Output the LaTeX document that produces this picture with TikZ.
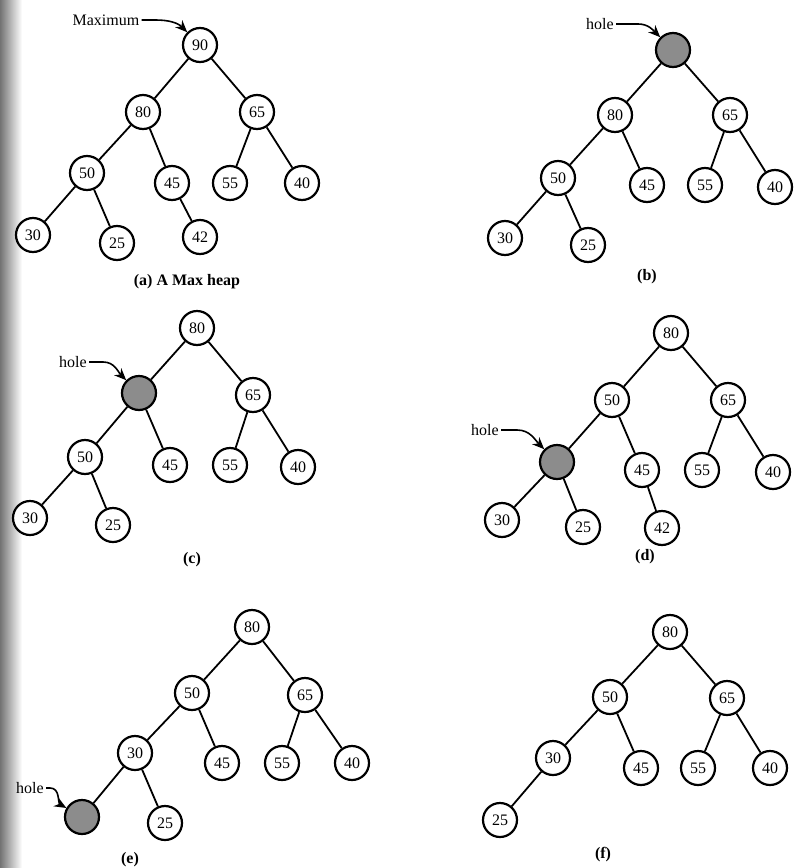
\documentclass[tikz,border=0pt]{standalone}
\usepackage{fontspec}
\setmainfont{Liberation Serif}
\usepackage{tikz}
\usetikzlibrary{arrows.meta}

\begin{document}
\begin{tikzpicture}[x=0.5pt, y=0.5pt]
    \tikzstyle{knode} = [circle, draw=black, line width=1.1pt, fill=white, minimum size=17pt, inner sep=0pt, font=\footnotesize]
    \tikzstyle{holenode} = [knode, fill=black!45]
    \tikzstyle{link} = [line width=0.9pt, draw=black]
    \tikzstyle{ptr} = [line width=0.8pt, -{Stealth[length=6pt, width=5pt]}, draw=black]
    \tikzstyle{tag} = [font=\footnotesize, inner sep=1pt]
    \tikzstyle{figcap} = [font=\footnotesize\bfseries]

    \useasboundingbox (0,0) rectangle (794,-868);
    \shade [left color=black!55, right color=white] (0,0) rectangle (22,-868);

    \node [knode] (a90) at (200,-45) {90};
    \node [knode] (a80) at (143,-112) {80};
    \node [knode] (a65) at (257,-112) {65};
    \node [knode] (a50) at (87,-173) {50};
    \node [knode] (a45) at (172,-183) {45};
    \node [knode] (a55) at (230,-183) {55};
    \node [knode] (a40) at (302,-183) {40};
    \node [knode] (a30) at (33,-235) {30};
    \node [knode] (a25) at (117,-243) {25};
    \node [knode] (a42) at (200,-237) {42};
    \node [tag] (amax) at (106,-20) {Maximum};
    \node [figcap] (acap) at (187,-282) {(a) A Max heap};
    \draw [link] (a90) -- (a80) (a90) -- (a65) (a80) -- (a50) (a80) -- (a45) (a65) -- (a55) (a65) -- (a40) (a50) -- (a30) (a50) -- (a25) (a45) -- (a42);
    \draw [ptr] (amax.east) -- ++(14,0) to[out=0, in=135] (a90.north west);

    \node [holenode] (bh) at (673,-50) {};
    \node [knode] (b80) at (615,-115) {80};
    \node [knode] (b65) at (730,-115) {65};
    \node [knode] (b50) at (558,-178) {50};
    \node [knode] (b45) at (647,-185) {45};
    \node [knode] (b55) at (705,-185) {55};
    \node [knode] (b40) at (775,-187) {40};
    \node [knode] (b30) at (505,-238) {30};
    \node [knode] (b25) at (588,-245) {25};
    \node [tag] (bhole) at (600,-24) {hole};
    \node [figcap] (bcap) at (647,-277) {(b)};
    \draw [link] (bh) -- (b80) (bh) -- (b65) (b80) -- (b50) (b80) -- (b45) (b65) -- (b55) (b65) -- (b40) (b50) -- (b30) (b50) -- (b25);
    \draw [ptr] (bhole.east) -- ++(22,0) to[out=0, in=135] (bh.north west);

    \node [knode] (c80) at (197,-328) {80};
    \node [holenode] (ch) at (139,-393) {};
    \node [knode] (c65) at (253,-395) {65};
    \node [knode] (c50) at (85,-457) {50};
    \node [knode] (c45) at (170,-465) {45};
    \node [knode] (c55) at (230,-465) {55};
    \node [knode] (c40) at (298,-467) {40};
    \node [knode] (c30) at (30,-518) {30};
    \node [knode] (c25) at (113,-525) {25};
    \node [tag] (chole) at (73,-362) {hole};
    \node [figcap] (ccap) at (192,-560) {(c)};
    \draw [link] (c80) -- (ch) (c80) -- (c65) (ch) -- (c50) (ch) -- (c45) (c65) -- (c55) (c65) -- (c40) (c50) -- (c30) (c50) -- (c25);
    \draw [ptr] (chole.east) -- ++(14,0) to[out=0, in=135] (ch.north west);

    \node [knode] (d80) at (671,-333) {80};
    \node [knode] (d50) at (612,-400) {50};
    \node [knode] (d65) at (728,-400) {65};
    \node [holenode] (dh) at (557,-462) {};
    \node [knode] (d45) at (642,-470) {45};
    \node [knode] (d55) at (702,-470) {55};
    \node [knode] (d40) at (773,-472) {40};
    \node [knode] (d30) at (502,-520) {30};
    \node [knode] (d25) at (583,-527) {25};
    \node [knode] (d42) at (662,-528) {42};
    \node [tag] (dhole) at (485,-430) {hole};
    \node [figcap] (dcap) at (645,-557) {(d)};
    \draw [link] (d80) -- (d50) (d80) -- (d65) (d50) -- (dh) (d50) -- (d45) (d65) -- (d55) (d65) -- (d40) (dh) -- (d30) (dh) -- (d25) (d45) -- (d42);
    \draw [ptr] (dhole.east) -- ++(16,0) to[out=0, in=135] (dh.north west);

    \node [knode] (e80) at (252,-627) {80};
    \node [knode] (e50) at (192,-693) {50};
    \node [knode] (e65) at (305,-695) {65};
    \node [knode] (e30) at (135,-753) {30};
    \node [knode] (e45) at (222,-763) {45};
    \node [knode] (e55) at (282,-763) {55};
    \node [knode] (e40) at (352,-763) {40};
    \node [holenode] (eh) at (82,-817) {};
    \node [knode] (e25) at (165,-823) {25};
    \node [tag] (ehole) at (30,-788) {hole};
    \node [figcap] (ecap) at (130,-860) {(e)};
    \draw [link] (e80) -- (e50) (e80) -- (e65) (e50) -- (e30) (e50) -- (e45) (e65) -- (e55) (e65) -- (e40) (e30) -- (eh) (e30) -- (e25);
    \draw [ptr] (ehole.east) -- ++(4,0) to[out=0, in=150] (eh.150);

    \node [knode] (f80) at (670,-632) {80};
    \node [knode] (f50) at (610,-697) {50};
    \node [knode] (f65) at (727,-698) {65};
    \node [knode] (f30) at (553,-758) {30};
    \node [knode] (f45) at (641,-768) {45};
    \node [knode] (f55) at (698,-768) {55};
    \node [knode] (f40) at (770,-768) {40};
    \node [knode] (f25) at (500,-820) {25};
    \node [figcap] (fcap) at (603,-855) {(f)};
    \draw [link] (f80) -- (f50) (f80) -- (f65) (f50) -- (f30) (f50) -- (f45) (f65) -- (f55) (f65) -- (f40) (f30) -- (f25);
\end{tikzpicture}
\end{document}
